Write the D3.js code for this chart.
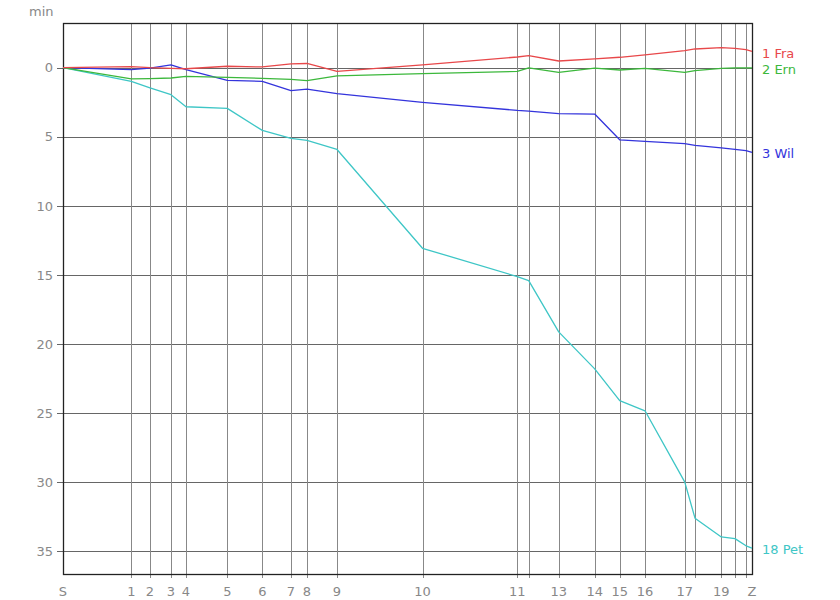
<!DOCTYPE html>
<html>
<head>
<meta charset="utf-8">
<script src="https://cdn.jsdelivr.net/npm/d3@7"></script>
<style>
  html, body { margin: 0; padding: 0; background: #fff; }
  svg { display: block; }
  text { font-family: "DejaVu Sans", Verdana, sans-serif; }
</style>
</head>
<body>
<svg id="chart" width="840" height="600"></svg>
<script>
// Controls (S, 1..21, Z) and their cumulative position along the course
const controls = ["S","1","2","3","4","5","6","7","8","9","10","11","12","13","14","15","16","17","18","19","20","21","Z"];
const controlPos = [0, 68.3, 87, 108, 123, 164.3, 199.3, 228, 244, 274, 359.5, 454.3, 465.7, 495.7, 531.7, 556.7, 582, 621.7, 632, 658.3, 672, 683, 689];
const tickLabels = ["S","1","2","3","4","5","6","7","8","9","10","11","","13","14","15","16","17","","19","","","Z"];

// Minutes behind reference at each control
const seriesNames = ["1 Fra", "2 Ern", "3 Wil", "18 Pet"];
const fra = [0, -0.08, 0, 0.05, 0.08, -0.1, -0.05, -0.27, -0.3, 0.27, -0.2, -0.77, -0.87, -0.48, -0.64, -0.75, -0.92, -1.23, -1.35, -1.45, -1.4, -1.3, -1.18];
const ern = [0, 0.82, 0.8, 0.75, 0.63, 0.7, 0.77, 0.85, 0.94, 0.6, 0.43, 0.27, 0.02, 0.34, 0.04, 0.17, 0.05, 0.34, 0.22, 0.05, 0.02, 0.01, 0.01];
const wil = [0, 0.15, 0.03, -0.2, 0.15, 0.92, 0.99, 1.67, 1.55, 1.88, 2.51, 3.09, 3.14, 3.33, 3.36, 5.22, 5.34, 5.5, 5.63, 5.8, 5.92, 6.01, 6.14];
const pet = [0, 0.99, 1.47, 1.96, 2.83, 2.95, 4.54, 5.12, 5.27, 5.92, 13.07, 15.12, 15.41, 19.12, 21.8, 24.1, 24.83, 29.97, 32.6, 33.96, 34.08, 34.6, 34.76];
const seriesColors = ["#e8484a", "#3cb83c", "#3434dc", "#3ec6c6"];
const yTicks = [0, 5, 10, 15, 20, 25, 30, 35];

const seriesData = [fra, ern, wil, pet];

const svg = d3.select("#chart");
const pLeft = 63, pRight = 752, pTop = 23, pBottom = 574;

const x = d3.scaleLinear().domain([0, 689]).range([pLeft, pRight]);
const y = d3.scaleLinear().domain([-3.23, 36.64]).range([pTop, pBottom]);

// Horizontal grid
svg.append("g").selectAll("line").data(yTicks).join("line")
  .attr("x1", pLeft - 6).attr("x2", pRight)
  .attr("y1", d => Math.round(y(d)) + 0.5).attr("y2", d => Math.round(y(d)) + 0.5)
  .attr("stroke", "#666").attr("stroke-width", 1);

// Vertical grid
svg.append("g").selectAll("line").data(controlPos.slice(1, -1)).join("line")
  .attr("x1", d => Math.round(x(d)) + 0.5).attr("x2", d => Math.round(x(d)) + 0.5)
  .attr("y1", pTop).attr("y2", pBottom + 4)
  .attr("stroke", "#888").attr("stroke-width", 1);

// Frame
svg.append("rect")
  .attr("x", pLeft + 0.5).attr("y", pTop + 0.5)
  .attr("width", pRight - pLeft).attr("height", pBottom - pTop)
  .attr("fill", "none").attr("stroke", "#222").attr("stroke-width", 1.3);

// Y axis labels
svg.append("g").selectAll("text").data(yTicks).join("text")
  .attr("x", 53).attr("y", d => y(d))
  .attr("dy", "0.36em").attr("text-anchor", "end")
  .attr("fill", "#888").attr("font-size", 13)
  .text(d => d);

svg.append("text").attr("x", 29).attr("y", 16)
  .attr("fill", "#888").attr("font-size", 13).text("min");

// X axis labels
svg.append("g").selectAll("text").data(controlPos).join("text")
  .attr("x", d => x(d)).attr("y", 596)
  .attr("text-anchor", "middle")
  .attr("fill", "#888").attr("font-size", 13)
  .text((d, i) => tickLabels[i]);

// Lines
const line = d3.line().x((d, i) => x(controlPos[i])).y(d => y(d));
const order = [3, 2, 1, 0];
order.forEach(k => {
  svg.append("path")
    .datum(seriesData[k])
    .attr("d", line)
    .attr("fill", "none")
    .attr("stroke", seriesColors[k])
    .attr("stroke-width", 1.3)
    .attr("stroke-linejoin", "round");
});

// End labels
const labelY = [53, 69, 153, 549];
seriesNames.forEach((name, k) => {
  svg.append("text")
    .attr("x", 762)
    .attr("y", labelY[k])
    .attr("dy", "0.36em")
    .attr("fill", seriesColors[k])
    .attr("font-size", 13)
    .text(name);
});
</script>
</body>
</html>
